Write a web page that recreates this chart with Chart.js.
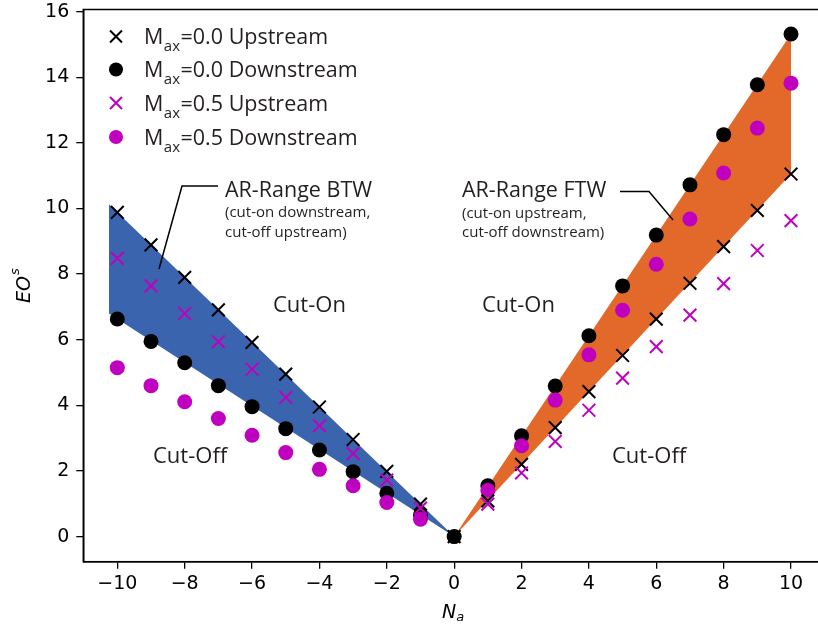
<!DOCTYPE html>
<html>
<head>
<meta charset="utf-8">
<script src="https://cdn.jsdelivr.net/npm/chart.js@4.4.1/dist/chart.umd.min.js"></script>
<style>
  html, body { margin: 0; padding: 0; background: #fff; overflow: hidden; }
  #wrap { width: 830px; height: 630px; }
</style>
</head>
<body>
<div id="wrap"><canvas id="eoChart" width="830" height="630"></canvas></div>
<script>
// azimuthal mode order
var na = [-10, -9, -8, -7, -6, -5, -4, -3, -2, -1, 0, 1, 2, 3, 4, 5, 6, 7, 8, 9, 10];

// EO^s values
var upM00 = [9.88, 8.89, 7.9, 6.91, 5.92, 4.95, 3.95, 2.96, 1.99, 0.99, 0, 1.09, 2.2, 3.32, 4.42, 5.52, 6.63, 7.72, 8.84, 9.94, 11.05];
var downM00 = [6.63, 5.95, 5.3, 4.6, 3.96, 3.29, 2.64, 1.98, 1.32, 0.66, 0, 1.55, 3.07, 4.59, 6.12, 7.64, 9.19, 10.72, 12.25, 13.77, 15.32];
var upM05 = [8.48, 7.64, 6.8, 5.94, 5.1, 4.24, 3.38, 2.53, 1.72, 0.87, null, 0.99, 1.94, 2.9, 3.85, 4.83, 5.79, 6.75, 7.71, 8.72, 9.63];
var downM05 = [5.15, 4.6, 4.11, 3.6, 3.09, 2.56, 2.05, 1.55, 1.04, 0.53, null, 1.41, 2.77, 4.16, 5.54, 6.9, 8.3, 9.68, 11.08, 12.45, 13.82];

// shaded AR ranges (outline points)
var btwTopX = [-10.25, 0], btwTopY = [10.13, 0];
var btwBotX = [-10.25, 0], btwBotY = [6.8, 0];
var ftwTopX = [0, 10], ftwTopY = [0, 15.32];
var ftwBotX = [0, 10], ftwBotY = [0, 11.05];

var xTicks = [-10, -8, -6, -4, -2, 0, 2, 4, 6, 8, 10];
var yTicks = [0, 2, 4, 6, 8, 10, 12, 14, 16];

var legendLabels = ['=0.0 Upstream', '=0.0 Downstream', '=0.5 Upstream', '=0.5 Downstream'];

var MAGENTA = '#bf00bf';
var TXT = '#231f20';
var SANS = '"Open Sans"';

function pts(xs, ys) {
	var out = [];
	for (var i = 0; i < xs.length; i++) {
		if (ys[i] !== null) out.push({ x: xs[i], y: ys[i] });
	}
	return out;
}

function minusLabel(v) {
	return v < 0 ? '\u2212' + Math.abs(v) : String(v);
}

function drawX(ctx, x, y, h, color) {
	ctx.save();
	ctx.strokeStyle = color;
	ctx.lineWidth = 2;
	ctx.beginPath();
	ctx.moveTo(x - h, y - h); ctx.lineTo(x + h, y + h);
	ctx.moveTo(x - h, y + h); ctx.lineTo(x + h, y - h);
	ctx.stroke();
	ctx.restore();
}

function drawDot(ctx, x, y, r, color) {
	ctx.save();
	ctx.fillStyle = color;
	ctx.beginPath();
	ctx.arc(x, y, r, 0, Math.PI * 2);
	ctx.fill();
	ctx.restore();
}

// frame, legend, annotations and axis titles
var extras = {
	id: 'extras',
	afterDraw: function(chart) {
		var ctx = chart.ctx;
		var a = chart.chartArea;
		ctx.save();

		// box around the axes
		ctx.strokeStyle = '#000';
		ctx.lineWidth = 1.5;
		ctx.strokeRect(a.left, a.top, a.right - a.left, a.bottom - a.top);

		// legend
		var rows = [36.5, 69.5, 103, 137];
		drawX(ctx, 116, rows[0], 6, '#000');
		drawDot(ctx, 116, rows[1], 7, '#000');
		drawX(ctx, 116, rows[2], 6, MAGENTA);
		drawDot(ctx, 116, rows[3], 7, MAGENTA);
		ctx.fillStyle = TXT;
		ctx.textAlign = 'left';
		ctx.textBaseline = 'alphabetic';
		for (var i = 0; i < rows.length; i++) {
			var bx = 144, by = rows[i] + 7.5;
			ctx.font = '21.5px ' + SANS;
			ctx.fillText('M', bx, by);
			bx += ctx.measureText('M').width + 0.5;
			ctx.font = '15px ' + SANS;
			ctx.fillText('ax', bx, by + 7);
			bx += ctx.measureText('ax').width + 0.5;
			ctx.font = '21.5px ' + SANS;
			ctx.fillText(legendLabels[i], bx, by);
		}

		// region labels
		ctx.font = '22px ' + SANS;
		ctx.fillText('Cut-On', 273, 311.5);
		ctx.fillText('Cut-On', 482, 311.5);
		ctx.fillText('Cut-Off', 153, 463);
		ctx.fillText('Cut-Off', 612, 463);

		// AR range callouts
		ctx.font = '21.5px ' + SANS;
		ctx.fillText('AR-Range BTW', 225, 196.5);
		ctx.fillText('AR-Range FTW', 462, 196.5);
		ctx.font = '15px ' + SANS;
		ctx.fillText('(cut-on downstream,', 225, 217);
		ctx.fillText('cut-off upstream)', 225, 236.5);
		ctx.fillText('(cut-on upstream,', 462, 217.5);
		ctx.fillText('cut-off downstream)', 462, 237);

		ctx.strokeStyle = '#000';
		ctx.lineWidth = 1.5;
		ctx.beginPath();
		ctx.moveTo(218, 186); ctx.lineTo(182, 186); ctx.lineTo(159, 269);
		ctx.moveTo(620, 191.5); ctx.lineTo(649, 191.5); ctx.lineTo(673, 220);
		ctx.stroke();

		// axis titles
		ctx.fillStyle = '#000';
		ctx.font = 'italic 19px "DejaVu Sans"';
		ctx.fillText('N', 442, 618);
		var nw = ctx.measureText('N').width;
		ctx.font = 'italic 13px "DejaVu Sans"';
		ctx.fillText('a', 442 + nw, 621);

		ctx.translate(30, 303);
		ctx.rotate(-Math.PI / 2);
		ctx.font = 'italic 19px "DejaVu Sans"';
		ctx.fillText('EO', 0, 0);
		var ew = ctx.measureText('EO').width;
		ctx.font = 'italic 13px "DejaVu Sans"';
		ctx.fillText('s', ew + 1, -11);

		ctx.restore();
	}
};

var ctx = document.getElementById('eoChart').getContext('2d');
var chart = new Chart(ctx, {
	type: 'scatter',
	data: {
		datasets: [{
			data: pts(btwTopX, btwTopY),
			showLine: true, borderWidth: 0, pointRadius: 0,
			backgroundColor: '#3b64ae', fill: '+1', order: 10
		}, {
			data: pts(btwBotX, btwBotY),
			showLine: true, borderWidth: 0, pointRadius: 0, fill: false, order: 10
		}, {
			data: pts(ftwTopX, ftwTopY),
			showLine: true, borderWidth: 0, pointRadius: 0,
			backgroundColor: '#e2692a', fill: '+1', order: 9
		}, {
			data: pts(ftwBotX, ftwBotY),
			showLine: true, borderWidth: 0, pointRadius: 0, fill: false, order: 9
		}, {
			label: 'M_ax=0.0 Upstream',
			data: pts(na, upM00),
			pointStyle: 'crossRot', pointRadius: 9, borderWidth: 2,
			borderColor: '#000', backgroundColor: '#000', order: 2
		}, {
			label: 'M_ax=0.0 Downstream',
			data: pts(na, downM00),
			pointStyle: 'circle', pointRadius: 7.5, borderWidth: 0,
			backgroundColor: '#000', order: 4
		}, {
			label: 'M_ax=0.5 Upstream',
			data: pts(na, upM05),
			pointStyle: 'crossRot', pointRadius: 9, borderWidth: 2,
			borderColor: MAGENTA, backgroundColor: MAGENTA, order: 1
		}, {
			label: 'M_ax=0.5 Downstream',
			data: pts(na, downM05),
			pointStyle: 'circle', pointRadius: 7.5, borderWidth: 0,
			backgroundColor: MAGENTA, order: 3
		}]
	},
	options: {
		responsive: false,
		animation: false,
		events: [],
		layout: { autoPadding: false, padding: { left: 0, top: 9.5, right: 5.3, bottom: 0 } },
		plugins: { legend: { display: false }, tooltip: { enabled: false } },
		scales: {
			x: {
				type: 'linear', min: -11.01, max: 11.0,
				afterBuildTicks: function(axis) {
					axis.ticks = xTicks.map(function(v) { return { value: v }; });
				},
				afterFit: function(axis) {
					axis.height = 630 - 561.7;
					axis.paddingLeft = 0;
					axis.paddingRight = 0;
				},
				grid: { drawOnChartArea: false, drawTicks: true, tickLength: 7, color: '#000', lineWidth: 1.3 },
				border: { display: true, color: '#000', width: 1.5 },
				ticks: {
					color: '#000', padding: 4,
					font: { family: 'DejaVu Sans', size: 19 },
					callback: function(v) { return minusLabel(v); }
				}
			},
			y: {
				type: 'linear', min: -0.765, max: 16.065,
				afterBuildTicks: function(axis) {
					axis.ticks = yTicks.map(function(v) { return { value: v }; });
				},
				afterFit: function(axis) {
					axis.width = 83.3;
					axis.paddingTop = 0;
					axis.paddingBottom = 0;
				},
				grid: { drawOnChartArea: false, drawTicks: true, tickLength: 7, color: '#000', lineWidth: 1.3 },
				border: { display: true, color: '#000', width: 1.5 },
				ticks: {
					color: '#000', padding: 7,
					font: { family: 'DejaVu Sans', size: 19 },
					callback: function(v) { return minusLabel(v); }
				}
			}
		}
	},
	plugins: [extras]
});
</script>
</body>
</html>
